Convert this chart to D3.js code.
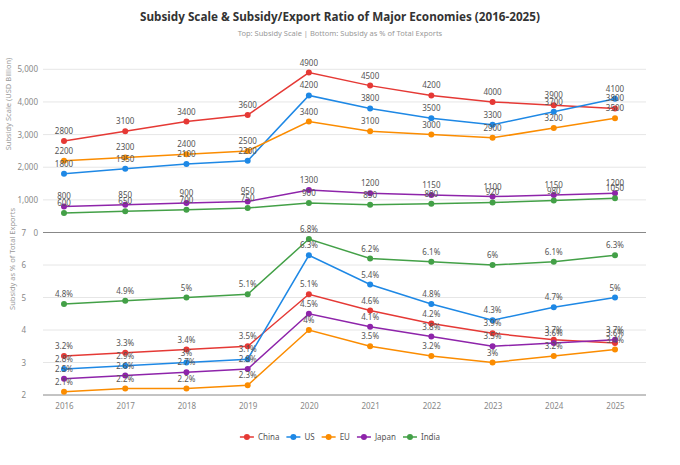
<!DOCTYPE html>
<html>
<head>
<meta charset="utf-8">
<script src="https://cdn.jsdelivr.net/npm/d3@7/dist/d3.min.js"></script>
<style>
body { margin: 0; background: #fff; font-family: "Noto Sans", "Open Sans", sans-serif; }
</style>
</head>
<body>
<div class="main"></div>
<script>
var W = 680, H = 465;

// data
var years = ["2016","2017","2018","2019","2020","2021","2022","2023","2024","2025"];
var countries = ["China","US","EU","Japan","India"];
var colors = ["#e53935","#1e88e5","#fb8c00","#8e24aa","#43a047"];

var scaleChina = [2800,3100,3400,3600,4900,4500,4200,4000,3900,3800];
var scaleUS    = [1800,1950,2100,2200,4200,3800,3500,3300,3700,4100];
var scaleEU    = [2200,2300,2400,2500,3400,3100,3000,2900,3200,3500];
var scaleJapan = [800,850,900,950,1300,1200,1150,1100,1150,1200];
var scaleIndia = [600,650,700,750,900,850,880,920,980,1050];

var ratioChina = [3.2,3.3,3.4,3.5,5.1,4.6,4.2,3.9,3.7,3.6];
var ratioUS    = [2.8,2.9,3.0,3.1,6.3,5.4,4.8,4.3,4.7,5.0];
var ratioEU    = [2.1,2.2,2.2,2.3,4.0,3.5,3.2,3.0,3.2,3.4];
var ratioJapan = [2.5,2.6,2.7,2.8,4.5,4.1,3.8,3.5,3.6,3.7];
var ratioIndia = [4.8,4.9,5.0,5.1,6.8,6.2,6.1,6.0,6.1,6.3];

var topTicks = [0,1000,2000,3000,4000,5000];
var bottomTicks = [2,3,4,5,6,7];

var scaleSeries = [scaleChina, scaleUS, scaleEU, scaleJapan, scaleIndia];
var ratioSeries = [ratioChina, ratioUS, ratioEU, ratioJapan, ratioIndia];

var svg = d3.select(".main").append("svg")
  .attr("width", W).attr("height", H)
  .style("font-family", "'Noto Sans', 'Open Sans', sans-serif");

var gridLeft = 43, gridRight = 646;

var x = d3.scalePoint().domain(years).range([64, 615]);
var yTop = d3.scaleLinear().domain([0, 5000]).range([232.5, 69.3]);
var yBot = d3.scaleLinear().domain([2, 7]).range([395, 232.5]);

//title
svg.append("text")
  .attr("x", W/2).attr("y", 21)
  .attr("text-anchor", "middle")
  .style("font-size", "11.7px").style("font-weight", "bold").style("fill", "#333")
  .text("Subsidy Scale & Subsidy/Export Ratio of Major Economies (2016-2025)");
svg.append("text")
  .attr("x", W/2).attr("y", 35.5)
  .attr("text-anchor", "middle")
  .style("font-size", "7.5px").style("fill", "#999")
  .text("Top: Subsidy Scale | Bottom: Subsidy as % of Total Exports");

//grid lines
function grid(scale, ticks) {
  svg.append("g").selectAll("line")
    .data(ticks).enter().append("line")
    .attr("x1", gridLeft).attr("x2", gridRight)
    .attr("y1", function(d){ return scale(d); })
    .attr("y2", function(d){ return scale(d); })
    .style("stroke", "#e6e6e6").style("stroke-width", 1);
}
grid(yTop, topTicks.slice(1));
grid(yBot, bottomTicks.slice(1, 5));

//axis lines
svg.append("line").attr("x1", gridLeft).attr("x2", gridRight)
  .attr("y1", yTop(0)).attr("y2", yTop(0))
  .style("stroke", "#888").style("stroke-width", 1);
svg.append("line").attr("x1", gridLeft).attr("x2", gridRight)
  .attr("y1", yBot(2)).attr("y2", yBot(2))
  .style("stroke", "#888").style("stroke-width", 1);

//y axes
var yAxisTop = d3.axisLeft(yTop).tickValues(topTicks).tickSize(0).tickPadding(5)
  .tickFormat(d3.format(","));
svg.append("g").attr("transform", "translate(" + gridLeft + ",0)")
  .call(yAxisTop)
  .call(function(g){ g.select(".domain").remove(); })
  .selectAll("text").style("font-size", "8px").style("fill", "#888")
  .style("font-family", "'Noto Sans', sans-serif");

var yAxisBot = d3.axisLeft(yBot).tickValues(bottomTicks).tickSize(0).tickPadding(5)
  .tickFormat(d3.format("d"));
svg.append("g").attr("transform", "translate(" + (gridLeft - 12) + ",0)")
  .call(yAxisBot)
  .call(function(g){ g.select(".domain").remove(); })
  .selectAll("text").style("font-size", "8px").style("fill", "#888")
  .style("font-family", "'Noto Sans', sans-serif");

//x axis
var xAxis = d3.axisBottom(x).tickSize(0).tickPadding(8);
svg.append("g").attr("transform", "translate(0," + yBot(2) + ")")
  .call(xAxis)
  .call(function(g){ g.select(".domain").remove(); })
  .selectAll("text").style("font-size", "8px").style("fill", "#888")
  .style("font-family", "'Noto Sans', sans-serif");

//axis names
svg.append("text")
  .attr("transform", "translate(11,104) rotate(-90)")
  .attr("text-anchor", "middle")
  .style("font-size", "7.5px").style("fill", "#999")
  .text("Subsidy Scale (USD Billion)");
svg.append("text")
  .attr("transform", "translate(15,259) rotate(-90)")
  .attr("text-anchor", "middle")
  .style("font-size", "7.5px").style("fill", "#999")
  .text("Subsidy as % of Total Exports");

//lines
function drawPanel(seriesList, yScale, fmt) {
  seriesList.forEach(function(vals, i) {
    var pts = d3.zip(years, vals);
    var line = d3.line()
      .x(function(d){ return x(d[0]); })
      .y(function(d){ return yScale(d[1]); });
    var g = svg.append("g");
    g.append("path").attr("d", line(pts))
      .style("fill", "none").style("stroke", colors[i]).style("stroke-width", 1.5);
    g.selectAll("circle").data(pts).enter().append("circle")
      .attr("cx", function(d){ return x(d[0]); })
      .attr("cy", function(d){ return yScale(d[1]); })
      .attr("r", 3)
      .style("fill", colors[i]);
  });
  seriesList.forEach(function(vals, i) {
    var pts = d3.zip(years, vals);
    svg.append("g").selectAll("text").data(pts).enter().append("text")
      .attr("x", function(d){ return x(d[0]); })
      .attr("y", function(d){ return yScale(d[1]) - 7; })
      .attr("text-anchor", "middle")
      .style("font-size", "8px").style("fill", "#555")
      .text(function(d){ return fmt(d[1]); });
  });
}
drawPanel(scaleSeries, yTop, function(v){ return String(v); });
drawPanel(ratioSeries, yBot, function(v){ return v + "%"; });

//legend
var legend = svg.append("g");
var lx = 0;
countries.forEach(function(c, i) {
  var item = legend.append("g").attr("transform", "translate(" + lx + ",0)");
  item.append("line").attr("x1", 0).attr("x2", 14).attr("y1", 0).attr("y2", 0)
    .style("stroke", colors[i]).style("stroke-width", 1.5);
  item.append("circle").attr("cx", 7).attr("cy", 0).attr("r", 3).style("fill", colors[i]);
  var t = item.append("text").attr("x", 18).attr("y", 3)
    .style("font-size", "8px").style("fill", "#555").text(c);
  lx += 18 + t.node().getComputedTextLength() + 7;
});
var lw = lx - 7;
legend.attr("transform", "translate(" + (W/2 - lw/2) + ",437)");
</script>
</body>
</html>
